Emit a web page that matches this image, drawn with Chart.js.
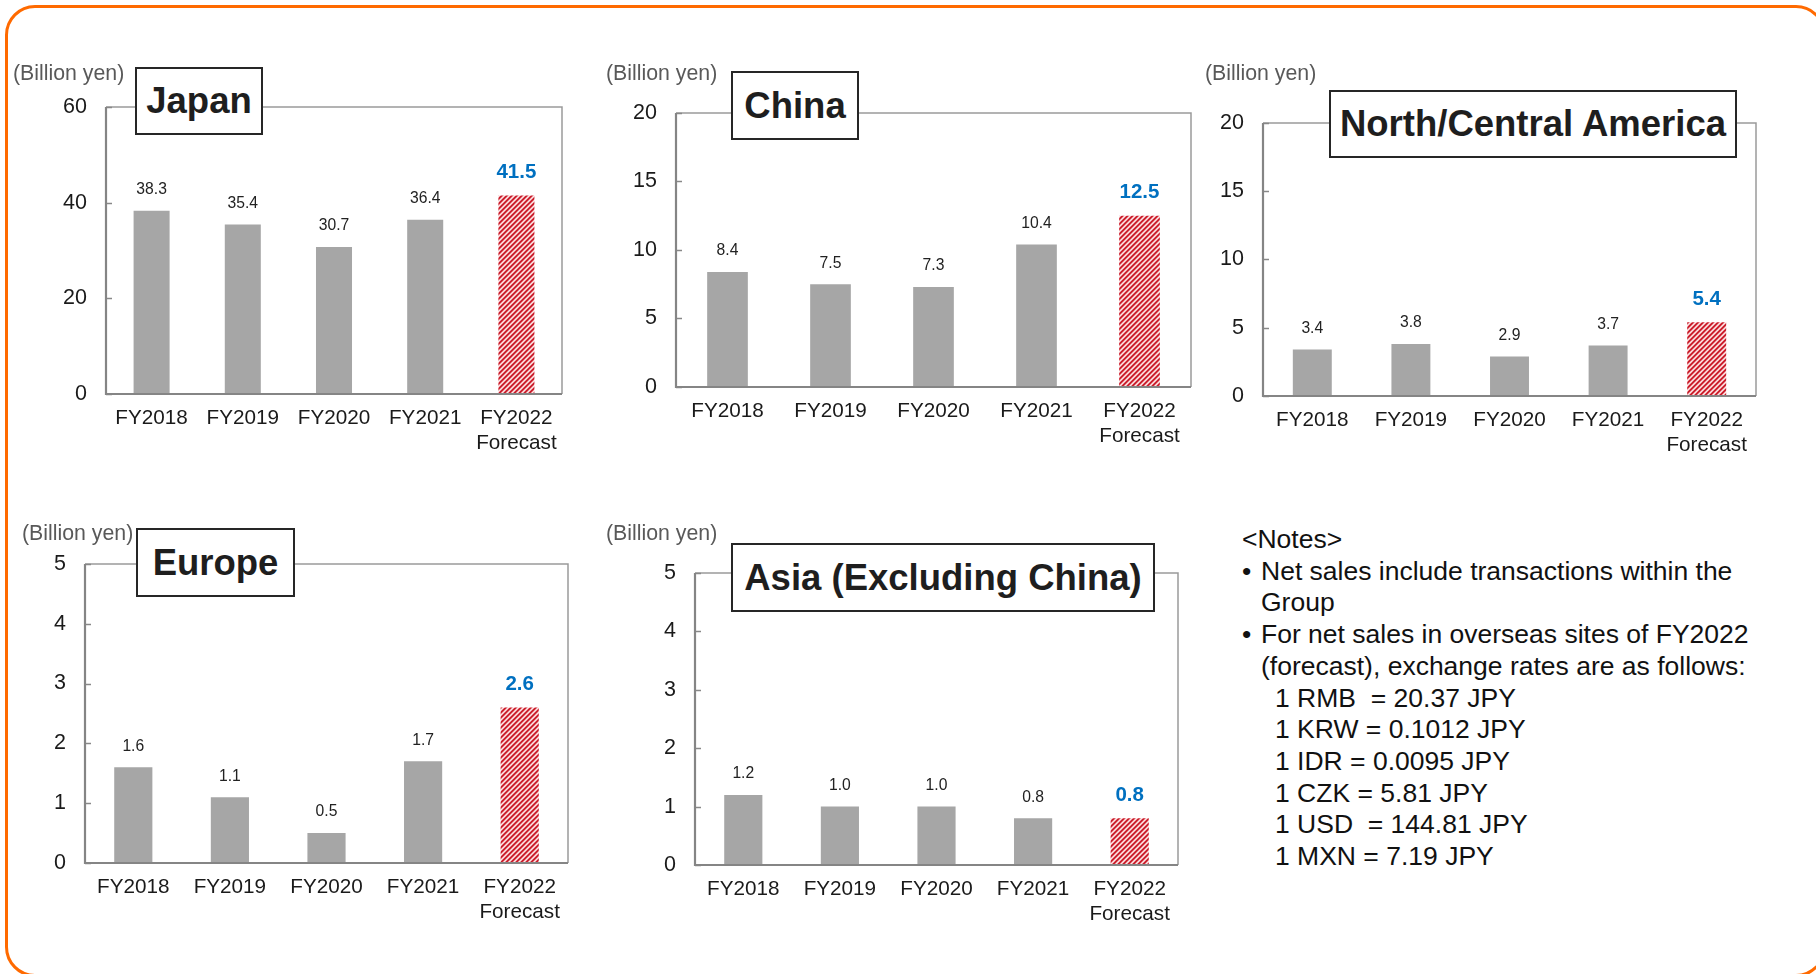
<!DOCTYPE html>
<html><head><meta charset="utf-8">
<script src="https://cdn.jsdelivr.net/npm/chart.js@4/dist/chart.umd.min.js"></script>
<style>
html,body{margin:0;padding:0;background:#fff;}
body{width:1816px;height:974px;position:relative;overflow:hidden;font-family:"Liberation Sans",Arial,sans-serif;}
#frame{position:absolute;left:5px;top:5px;width:1821px;height:972px;border:3.5px solid #FF6A00;border-radius:30px;box-sizing:border-box;}
canvas{position:absolute;}
.unit{position:absolute;font-size:21.3px;color:#595959;white-space:nowrap;line-height:24px;}
.title{position:absolute;background:#fff;border:2px solid #262626;box-sizing:border-box;display:flex;align-items:center;justify-content:center;font-weight:bold;font-size:36.5px;color:#1e1e1e;white-space:nowrap;z-index:2;}
#notes{position:absolute;left:1242px;top:524px;font-size:26.5px;line-height:31.7px;color:#111;}
#notes div{white-space:pre;}
</style></head>
<body>
<div id="frame"></div>
<div id="notes"></div>
<script>
const categories = ['FY2018','FY2019','FY2020','FY2021',['FY2022','Forecast']];
const japanSales = [38.3, 35.4, 30.7, 36.4, 41.5];
const chinaSales = [8.4, 7.5, 7.3, 10.4, 12.5];
const northCentralAmericaSales = [3.4, 3.8, 2.9, 3.7, 5.4];
const europeSales = [1.6, 1.1, 0.5, 1.7, 2.6];
const asiaSales = [1.2, 1.0, 1.0, 0.8, 0.8];
const japanTicks = [0, 20, 40, 60];
const chinaTicks = [0, 5, 10, 15, 20];
const northCentralAmericaTicks = [0, 5, 10, 15, 20];
const europeTicks = [0, 1, 2, 3, 4, 5];
const asiaTicks = [0, 1, 2, 3, 4, 5];
const unitLabel = '(Billion yen)';
const notesHeading = '<Notes>';
const notesBullets = [
  ['Net sales include transactions within the', 'Group'],
  ['For net sales in overseas sites of FY2022', '(forecast), exchange rates are as follows:']
];
const exchangeRates = [
  '1 RMB  = 20.37 JPY',
  '1 KRW = 0.1012 JPY',
  '1 IDR = 0.0095 JPY',
  '1 CZK = 5.81 JPY',
  '1 USD  = 144.81 JPY',
  '1 MXN = 7.19 JPY'
];

const panels = [
  {title:'Japan', data:japanSales, ticks:japanTicks, plot:{l:106,t:107,r:562,b:394}, unit:{x:13,y:61}, box:{l:135,t:67,r:263,b:135}},
  {title:'China', data:chinaSales, ticks:chinaTicks, plot:{l:676,t:113,r:1191,b:387}, unit:{x:606,y:61}, box:{l:731,t:71,r:859,b:140}},
  {title:'North/Central America', data:northCentralAmericaSales, ticks:northCentralAmericaTicks, plot:{l:1263,t:123,r:1756,b:396}, unit:{x:1205,y:61}, box:{l:1329,t:90,r:1737,b:158}},
  {title:'Europe', data:europeSales, ticks:europeTicks, plot:{l:85,t:564,r:568,b:863}, unit:{x:22,y:521}, box:{l:136,t:528,r:295,b:597}},
  {title:'Asia (Excluding China)', data:asiaSales, ticks:asiaTicks, plot:{l:695,t:573,r:1178,b:865}, unit:{x:606,y:521}, box:{l:731,t:543,r:1155,b:612}}
];

// notes
(function(){
  const n = document.getElementById('notes');
  const h = document.createElement('div'); h.textContent = notesHeading; n.appendChild(h);
  notesBullets.forEach(lines => {
    lines.forEach((ln, j) => {
      const d = document.createElement('div');
      if (j === 0) {
        const s = document.createElement('span');
        s.style.display = 'inline-block'; s.style.width = '19px'; s.textContent = '•';
        d.appendChild(s); d.appendChild(document.createTextNode(ln));
      } else {
        d.style.paddingLeft = '19px'; d.textContent = ln;
      }
      n.appendChild(d);
    });
  });
  exchangeRates.forEach(r => {
    const d = document.createElement('div'); d.style.paddingLeft = '33px'; d.textContent = r; n.appendChild(d);
  });
})();

function makeHatch(){
  const N = 5;
  const c = document.createElement('canvas'); c.width = N; c.height = N;
  const g = c.getContext('2d');
  const img = g.createImageData(N, N);
  const cols = [[200,28,42],[206,36,50],[236,150,156],[252,232,232],[236,150,156]];
  for (let y = 0; y < N; y++) for (let x = 0; x < N; x++) {
    const k = (x + y) % N; const o = (y*N + x)*4; const col = cols[k];
    img.data[o]=col[0]; img.data[o+1]=col[1]; img.data[o+2]=col[2]; img.data[o+3]=255;
  }
  g.putImageData(img, 0, 0);
  return g.createPattern(c, 'repeat');
}
const hatch = makeHatch();

const FONT = '"Liberation Sans", Arial, sans-serif';

const boxPlugin = {
  id: 'plotBox',
  afterDraw(chart) {
    const {ctx, chartArea: a} = chart;
    const ys = chart.scales.y;
    ctx.save();
    ctx.lineCap = 'butt';
    ctx.strokeStyle = '#9a9a9a'; ctx.lineWidth = 1.5;
    ctx.beginPath(); ctx.moveTo(a.left, a.top); ctx.lineTo(a.right, a.top); ctx.lineTo(a.right, a.bottom); ctx.stroke();
    ctx.strokeStyle = '#888'; ctx.lineWidth = 1.5;
    ys.ticks.forEach(t => {
      const py = Math.round(ys.getPixelForValue(t.value)) + 0.5;
      ctx.beginPath(); ctx.moveTo(a.left, py); ctx.lineTo(a.left + 6, py); ctx.stroke();
    });
    ctx.strokeStyle = '#858585'; ctx.lineWidth = 2.2;
    ctx.beginPath(); ctx.moveTo(a.left, a.top); ctx.lineTo(a.left, a.bottom); ctx.lineTo(a.right, a.bottom); ctx.stroke();
    ctx.restore();
  },
  afterDatasetsDraw(chart) {
    const {ctx} = chart;
    const meta = chart.getDatasetMeta(0);
    const vals = chart.data.datasets[0].data;
    const last = vals.length - 1;
    ctx.save();
    ctx.textAlign = 'center'; ctx.textBaseline = 'middle';
    meta.data.forEach((bar, i) => {
      const v = vals[i].toFixed(1);
      if (i === last) {
        ctx.font = 'bold 20.5px ' + FONT; ctx.fillStyle = '#0070C0';
        ctx.fillText(v, bar.x, bar.y - 23);
      } else {
        ctx.font = '15.7px ' + FONT; ctx.fillStyle = '#222';
        ctx.fillText(v, bar.x, bar.y - 21);
      }
    });
    ctx.restore();
  }
};

const PADL = 90, PADT = 20, PADR = 30, XH = 70;

function buildChart(cv, p, w, h) {
  cv.width = w; cv.height = h;
  cv.style.width = w + 'px'; cv.style.height = h + 'px';
  const colors = p.data.map((_, i) => i === p.data.length - 1 ? hatch : '#A6A6A6');
  return new Chart(cv.getContext('2d'), {
    type: 'bar',
    data: { labels: categories, datasets: [{ data: p.data, backgroundColor: colors, borderWidth: 0, categoryPercentage: 1, barPercentage: 0.395 }] },
    options: {
      responsive: false, maintainAspectRatio: false, animation: false, devicePixelRatio: 1,
      layout: { padding: { top: PADT, right: PADR, left: 0, bottom: 0 } },
      plugins: { legend: { display: false }, tooltip: { enabled: false } },
      scales: {
        x: {
          grid: { display: false, drawTicks: false }, border: { display: false },
          ticks: { color: '#1a1a1a', font: { family: FONT, size: 20.7, lineHeight: 1.2 }, padding: 12, maxRotation: 0, minRotation: 0, autoSkip: false },
          afterFit: s => { s.height = XH; }
        },
        y: {
          min: p.ticks[0], max: p.ticks[p.ticks.length - 1],
          afterBuildTicks: s => { s.ticks = p.ticks.map(v => ({ value: v })); },
          grid: { display: false, drawTicks: false }, border: { display: false },
          ticks: { color: '#1a1a1a', font: { family: FONT, size: 21.5 }, padding: 19 },
          afterFit: s => { s.width = PADL; }
        }
      }
    },
    plugins: [boxPlugin]
  });
}

panels.forEach((p) => {
  const cv = document.createElement('canvas');
  document.body.appendChild(cv);
  const W = p.plot.r - p.plot.l, H = p.plot.b - p.plot.t;
  let w = W + PADL + PADR, h = H + PADT + XH;
  let chart = buildChart(cv, p, w, h);
  for (let k = 0; k < 3; k++) {
    const a = chart.chartArea;
    const dw = W - (a.right - a.left), dh = H - (a.bottom - a.top);
    if (Math.abs(dw) < 0.5 && Math.abs(dh) < 0.5) break;
    chart.destroy();
    w += dw; h += dh;
    chart = buildChart(cv, p, Math.round(w), Math.round(h));
  }
  const a = chart.chartArea;
  cv.style.left = (p.plot.l - a.left) + 'px';
  cv.style.top = (p.plot.t - a.top) + 'px';

  const u = document.createElement('div');
  u.className = 'unit'; u.textContent = unitLabel;
  u.style.left = p.unit.x + 'px'; u.style.top = p.unit.y + 'px';
  document.body.appendChild(u);

  const b = document.createElement('div');
  b.className = 'title'; b.textContent = p.title;
  b.style.left = p.box.l + 'px'; b.style.top = p.box.t + 'px';
  b.style.width = (p.box.r - p.box.l) + 'px'; b.style.height = (p.box.b - p.box.t) + 'px';
  document.body.appendChild(b);
});
</script>
</body></html>
